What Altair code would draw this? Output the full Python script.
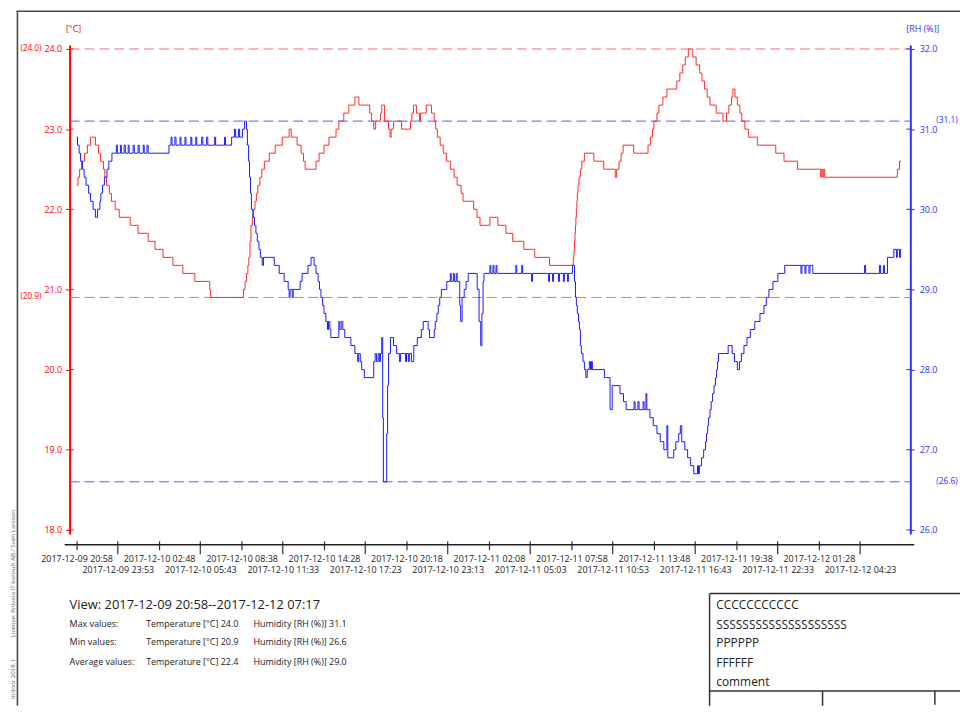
import altair as alt
import pandas as pd

FONT = "Open Sans"

# elapsed minutes since 2017-12-09 20:58 (change points of a stepped record)
temp_t = [0, 6, 13, 21, 34, 46, 59, 80, 93, 101, 114, 120, 127, 139, 148, 164, 181, 228, 261, 304, 333, 367, 409, 451, 502, 565, 569,
          708, 715, 721, 727, 731, 736, 740, 746, 751, 757, 763, 769, 778, 786, 797, 818, 843, 873, 902, 911, 936, 953, 963, 970,
          1016, 1029, 1050, 1071, 1101, 1113, 1134, 1155, 1181, 1198, 1244, 1252, 1261, 1269, 1290, 1295, 1307, 1324, 1330, 1335,
          1345, 1379, 1417, 1423, 1430, 1442, 1455, 1459, 1484, 1506, 1518, 1524, 1531, 1543, 1556, 1569, 1586, 1602, 1615, 1632,
          1640, 1685, 1699, 1712, 1754, 1788, 1822, 1851, 1898, 1944, 2007,
          2108, 2111, 2113, 2115, 2117, 2119, 2121, 2123, 2125, 2128, 2132, 2138, 2144, 2155, 2195, 2237, 2286, 2292, 2302, 2311,
          2319, 2364, 2425, 2435, 2444, 2450, 2463, 2471, 2488, 2505, 2547, 2560, 2572, 2583, 2596, 2615, 2629, 2644, 2654, 2665,
          2676, 2688, 2714, 2743, 2758, 2768, 2779, 2785, 2794, 2804, 2815, 2823, 2836, 2851, 2889, 2967, 3002, 3059, 3158, 3162,
          3167, 3171, 3175, 3483, 3492, 3500]
temp_v = [22.3, 22.4, 22.5, 22.6, 22.7, 22.8, 22.9, 22.8, 22.7, 22.6, 22.5, 22.4, 22.3, 22.2, 22.1, 22.0, 21.9, 21.8, 21.7, 21.6, 21.5, 21.4, 21.3, 21.2, 21.1, 21.0, 20.9,
          21.0, 21.1, 21.2, 21.3, 21.4, 21.6, 21.8, 21.9, 22.0, 22.1, 22.2, 22.3, 22.4, 22.5, 22.6, 22.7, 22.8, 22.9, 23.0, 22.9, 22.8, 22.7, 22.6, 22.5,
          22.6, 22.7, 22.8, 22.9, 23.0, 23.1, 23.2, 23.3, 23.4, 23.3, 23.2, 23.1, 23.0, 23.1, 23.2, 23.3, 23.1, 23.0, 22.9, 23.0,
          23.1, 23.0, 23.1, 23.2, 23.3, 23.2, 23.1, 23.2, 23.3, 23.2, 23.1, 23.0, 22.9, 22.8, 22.7, 22.6, 22.5, 22.4, 22.3, 22.2,
          22.1, 22.0, 21.9, 21.8, 21.9, 21.8, 21.7, 21.6, 21.5, 21.4, 21.3,
          21.4, 21.5, 21.6, 21.7, 21.8, 21.9, 22.0, 22.1, 22.2, 22.3, 22.4, 22.5, 22.6, 22.7, 22.6, 22.5, 22.4, 22.5, 22.6, 22.7,
          22.8, 22.7, 22.8, 22.9, 23.0, 23.1, 23.2, 23.3, 23.4, 23.5, 23.6, 23.7, 23.8, 23.9, 24.0, 23.9, 23.8, 23.7, 23.6, 23.5,
          23.4, 23.3, 23.2, 23.1, 23.2, 23.3, 23.4, 23.5, 23.4, 23.3, 23.2, 23.1, 23.0, 22.9, 22.8, 22.7, 22.6, 22.5, 22.4, 22.5,
          22.4, 22.5, 22.4, 22.5, 22.6, 22.6]

hum_t = [0, 4, 11, 17, 25, 32, 40, 51, 59, 70, 80, 89, 99, 103, 110, 118, 129, 137, 150,
         169, 173, 186, 190, 202, 207, 219, 223, 240, 245, 261, 266, 283, 287, 299, 304,
         392, 401, 405, 417, 422, 439, 443, 460, 464, 485, 489, 506, 510, 531, 536, 552, 557, 586, 590, 628, 632,
         658, 670, 675, 687, 692, 704, 713,
         721, 725, 730, 734, 738, 742, 748, 755, 761, 767, 774, 780, 788, 793,
         839, 860, 881, 898, 902, 906, 915, 919, 949, 957, 982, 995, 1008, 1016, 1025, 1031, 1037, 1044, 1050,
         1058, 1065, 1069, 1075, 1079, 1113, 1117, 1123, 1130, 1138, 1164, 1181, 1193, 1197, 1204, 1210, 1221, 1261, 1267, 1273,
         1280, 1286, 1290, 1295, 1299, 1302, 1316, 1320, 1324, 1332, 1345, 1358, 1370, 1375, 1396, 1400, 1408, 1412, 1421, 1431,
         1446, 1463, 1471, 1492, 1498, 1518, 1522, 1529, 1535, 1541, 1548, 1571, 1586, 1590, 1599, 1603, 1611, 1615, 1626, 1630,
         1636, 1645, 1653, 1662, 1700, 1708, 1715, 1720, 1725, 1729, 1754, 1758, 1767, 1771, 1780, 1784, 1864, 1868, 1889, 1893,
         1931, 1935, 2003, 2007, 2020, 2024, 2045, 2049, 2066, 2070, 2083, 2087, 2104,
         2113, 2117, 2121, 2125, 2130, 2134, 2138, 2142, 2149, 2155, 2161, 2167, 2176, 2181, 2185, 2189, 2240, 2264, 2273, 2306,
         2321, 2332, 2366, 2370, 2382, 2387, 2404, 2408, 2416, 2420, 2433, 2447, 2463, 2477, 2492, 2505, 2509, 2534, 2543, 2555,
         2562, 2568, 2581, 2593, 2606, 2619, 2635, 2639, 2643, 2652, 2661, 2669, 2673, 2678, 2682, 2688, 2693, 2699, 2705, 2711,
         2716, 2720, 2724, 2765, 2782, 2792, 2804, 2813, 2821, 2832, 2845, 2859, 2878, 2900, 2917, 2927, 2938, 2955, 2976, 3005,
         3074, 3078, 3091, 3095, 3108, 3112, 3124, 3344, 3348, 3407, 3412, 3424, 3428, 3441, 3468, 3479, 3483, 3492, 3496, 3500]
hum_v = [30.9, 30.8, 30.7, 30.6, 30.5, 30.4, 30.3, 30.2, 30.1, 30.0, 29.9, 30.0, 30.1, 30.2, 30.3, 30.4, 30.5, 30.6, 30.7,
         30.8, 30.7, 30.8, 30.7, 30.8, 30.7, 30.8, 30.7, 30.8, 30.7, 30.8, 30.7, 30.8, 30.7, 30.8, 30.7,
         30.8, 30.9, 30.8, 30.9, 30.8, 30.9, 30.8, 30.9, 30.8, 30.9, 30.8, 30.9, 30.8, 30.9, 30.8, 30.9, 30.8, 30.9, 30.8, 30.9, 30.8,
         30.9, 31.0, 30.9, 31.0, 30.9, 31.0, 31.1,
         31.0, 30.8, 30.6, 30.4, 30.2, 30.0, 29.9, 29.8, 29.7, 29.6, 29.5, 29.4, 29.3, 29.4,
         29.3, 29.2, 29.1, 29.0, 28.9, 29.0, 28.9, 29.0, 29.1, 29.2, 29.3, 29.4, 29.3, 29.2, 29.1, 29.0, 28.9, 28.8, 28.7,
         28.6, 28.5, 28.6, 28.5, 28.4, 28.6, 28.5, 28.6, 28.5, 28.4, 28.3, 28.2, 28.1, 28.2, 28.1, 28.0, 27.9, 28.1, 28.2, 28.1,
         28.2, 28.1, 28.2, 28.4, 27.4, 26.6, 27.2, 27.8, 28.2, 28.4, 28.3, 28.2, 28.1, 28.2, 28.1, 28.2, 28.1, 28.2, 28.1, 28.3,
         28.4, 28.5, 28.6, 28.5, 28.4, 28.5, 28.6, 28.7, 28.8, 28.9, 29.0, 29.1, 29.2, 29.1, 29.2, 29.1, 29.2, 29.1, 28.8, 28.6,
         28.9, 29.0, 29.1, 29.2, 29.0, 28.6, 28.3, 28.7, 29.1, 29.2, 29.3, 29.2, 29.3, 29.2, 29.3, 29.2, 29.3, 29.2, 29.3, 29.2,
         29.1, 29.2, 29.1, 29.2, 29.1, 29.2, 29.1, 29.2, 29.1, 29.2, 29.1, 29.2, 29.3,
         29.1, 28.9, 28.8, 28.7, 28.6, 28.5, 28.3, 28.2, 28.1, 28.0, 27.9, 28.0, 28.1, 28.0, 28.1, 28.0, 27.9, 27.5, 27.8, 27.7,
         27.6, 27.5, 27.6, 27.5, 27.6, 27.5, 27.6, 27.5, 27.7, 27.5, 27.4, 27.3, 27.2, 27.1, 27.0, 27.3, 26.9, 27.0, 27.1, 27.2,
         27.3, 27.1, 27.0, 26.9, 26.8, 26.7, 26.8, 26.7, 26.8, 26.9, 27.0, 27.1, 27.2, 27.3, 27.4, 27.5, 27.6, 27.7, 27.8, 27.9,
         28.0, 28.1, 28.2, 28.3, 28.2, 28.1, 28.0, 28.1, 28.2, 28.3, 28.4, 28.5, 28.6, 28.7, 28.8, 28.9, 29.0, 29.1, 29.2, 29.3,
         29.2, 29.3, 29.2, 29.3, 29.2, 29.3, 29.2, 29.3, 29.2, 29.3, 29.2, 29.3, 29.2, 29.4, 29.5, 29.4, 29.5, 29.4, 29.5, 29.5]

START = "2017-12-09 20:58"
tick_minutes = [0, 175, 350, 525, 700, 875, 1050, 1225, 1400, 1575, 1750, 1925,
                2100, 2275, 2450, 2625, 2800, 2975, 3150, 3325]
temp_ticks = [18.0, 19.0, 20.0, 21.0, 22.0, 23.0, 24.0]
hum_ticks = [26.0, 27.0, 28.0, 29.0, 30.0, 31.0, 32.0]

temp_limits = [24.0, 20.9]   # max, min
hum_limits = [31.1, 26.6]    # max, min

stat_names = ["Max values:", "Min values:", "Average values:"]
stat_temp = [24.0, 20.9, 22.4]
stat_hum = [31.1, 26.6, 29.0]

view_text = "View: 2017-12-09 20:58--2017-12-12 07:17"
box_lines = ["CCCCCCCCCCC", "SSSSSSSSSSSSSSSSSSSS", "PPPPPP", "FFFFFF", "comment"]
license_1 = "Indoor 2018.1"
license_2 = "License: Knivsta IT konsult AB / Sven Larsson"

# ---------------------------------------------------------------
W, H = 846, 492
RED, RED_LINE, RED_DASH = "#ff0000", "#ff2a2a", "#ff6a6a"
BLUE, BLUE_LINE, BLUE_DASH = "#3030ff", "#1a1aff", "#5a5aff"
DARK = "#333333"

t0 = pd.Timestamp(START)
def stamp(mins):
    return [(t0 + pd.Timedelta(minutes=m)).strftime("%Y-%m-%dT%H:%M:%S") for m in mins]

def dt(m):
    ts = t0 + pd.Timedelta(minutes=m)
    return alt.DateTime(year=ts.year, month=ts.month, date=ts.day,
                        hours=ts.hour, minutes=ts.minute, seconds=ts.second)

temp_df = pd.DataFrame({"t": stamp(temp_t), "v": temp_v})
hum_df = pd.DataFrame({"t": stamp(hum_t), "v": hum_v})

x_scale = alt.Scale(domain=[dt(-29.5), dt(3538)], nice=False)
t_scale = alt.Scale(domain=[17.95, 24.05], nice=False, zero=False)
h_scale = alt.Scale(domain=[25.95, 32.05], nice=False, zero=False)

def x_axis(values, tick_size, pad):
    return alt.Axis(values=[dt(m) for m in values], format="%Y-%m-%d %H:%M", orient="bottom", offset=7,
                    domain=False, grid=False, title=None, tickSize=tick_size,
                    tickColor=DARK, tickWidth=1.2, labelColor="#222222", labelFontSize=9,
                    labelFont=FONT, labelPadding=pad, labelFlush=False, labelOverlap=False)

even_axis = x_axis(tick_minutes[0::2], 9, 5)
odd_axis = x_axis(tick_minutes[1::2], 13, 12)

temp_axis = alt.Axis(values=temp_ticks, format=".1f", orient="left", domainColor=RED, domainWidth=2,
                     tickColor=RED, tickSize=4, labelColor=RED, labelFontSize=9, labelFont=FONT,
                     labelPadding=4, grid=False, title=None, labelFlush=False, labelOverlap=False)
hum_axis = alt.Axis(values=hum_ticks, format=".1f", orient="right", domainColor=BLUE, domainWidth=2,
                    tickColor=BLUE, tickSize=4, labelColor=BLUE, labelFontSize=9, labelFont=FONT,
                    labelPadding=5, grid=False, title=None, labelFlush=False, labelOverlap=False)

temp_line = alt.Chart(temp_df).mark_line(color=RED_LINE, strokeWidth=1, interpolate="step-after").encode(
    x=alt.X("t:T", scale=x_scale, axis=even_axis),
    y=alt.Y("v:Q", scale=t_scale, axis=temp_axis),
)
hum_line = alt.Chart(hum_df).mark_line(color=BLUE_LINE, strokeWidth=1, interpolate="step-after").encode(
    x=alt.X("t:T", scale=x_scale, axis=odd_axis),
    y=alt.Y("v:Q", scale=h_scale, axis=hum_axis),
)

t_lim_df = pd.DataFrame({"v": temp_limits, "label": ["(%.1f)" % v for v in temp_limits]})
h_lim_df = pd.DataFrame({"v": hum_limits, "label": ["(%.1f)" % v for v in hum_limits]})

t_dash = alt.Chart(t_lim_df).mark_rule(color=RED_DASH, strokeWidth=1, strokeDash=[10, 5]).encode(
    y=alt.Y("v:Q", scale=t_scale, axis=None), x=alt.value(0), x2=alt.value(W))
h_dash = alt.Chart(h_lim_df).mark_rule(color=BLUE_DASH, strokeWidth=1, strokeDash=[10, 5]).encode(
    y=alt.Y("v:Q", scale=h_scale, axis=None), x=alt.value(0), x2=alt.value(W))

t_lab = alt.Chart(t_lim_df).mark_text(color=RED, fontSize=8.2, font=FONT, align="right", baseline="middle").encode(
    y=alt.Y("v:Q", scale=t_scale, axis=None), x=alt.value(-28.5), text="label:N")
h_lab = alt.Chart(h_lim_df).mark_text(color=BLUE, fontSize=8.5, font=FONT, align="left", baseline="middle", dy=-1).encode(
    y=alt.Y("v:Q", scale=h_scale, axis=None), x=alt.value(872), text="label:N")

t_in = alt.Chart(pd.DataFrame({"v": temp_ticks})).mark_rule(color=RED, strokeWidth=1).encode(
    y=alt.Y("v:Q", scale=t_scale, axis=None), x=alt.value(0), x2=alt.value(4))
h_in = alt.Chart(pd.DataFrame({"v": hum_ticks})).mark_rule(color=BLUE, strokeWidth=1).encode(
    y=alt.Y("v:Q", scale=h_scale, axis=None), x=alt.value(W - 4), x2=alt.value(W))

one = pd.DataFrame({"a": [0]})

def txt(s, x, y, size=9, color="#222222", align="left", angle=0):
    kw = dict(text=s, fontSize=size, font=FONT, color=color, align=align, baseline="middle")
    if angle:
        kw["angle"] = angle
    return alt.Chart(one).mark_text(**kw).encode(x=alt.value(x), y=alt.value(y))

def rule(x, y, x2=None, y2=None, color=DARK, width=1.5):
    enc = dict(x=alt.value(x), y=alt.value(y))
    if x2 is not None:
        enc["x2"] = alt.value(x2)
    if y2 is not None:
        enc["y2"] = alt.value(y2)
    return alt.Chart(one).mark_rule(color=color, strokeWidth=width).encode(**enc)

deco = [
    txt("[°C]", 4, -16, color=RED, align="center"),
    txt("[RH (%)]", 858.5, -16, color=BLUE, align="center"),
    rule(-5, 503, x2=850, color="#222222", width=1.5),
    # outer frame
    rule(-52.5, -34, y2=665, color="#4a4a4a", width=1.6),
    rule(-53.5, -34, x2=900, color="#4a4a4a", width=1.6),
    txt(license_2, -57, 532, size=6.2, color="#666666", align="center", angle=270),
    txt(license_1, -57, 638, size=6.2, color="#666666", align="center", angle=270),
    txt(view_text, 0, 564, size=13, color="#222222"),
    # right info box
    rule(644, 552, x2=900, color=DARK, width=1.5),
    rule(644, 552, y2=665, color=DARK, width=1.5),
    rule(644, 650, x2=900, color=DARK, width=1.5),
    rule(757.7, 650, y2=665, color=DARK, width=1.5),
    rule(870.7, 650, y2=664, color=DARK, width=1.5),
]
row_y = [582.3, 601.3, 620.7]
for i, name in enumerate(stat_names):
    deco.append(txt(name, 0, row_y[i]))
    deco.append(txt("Temperature [°C] %.1f" % stat_temp[i], 77, row_y[i]))
    deco.append(txt("Humidity [RH (%%)] %.1f" % stat_hum[i], 185, row_y[i]))
box_y = [564, 583.3, 602.3, 621.7, 640.7]
for i, s in enumerate(box_lines):
    deco.append(txt(s, 650.7, box_y[i], size=12, color="#222222"))

chart = alt.layer(
    t_dash, h_dash, t_in, h_in, t_lab, h_lab, temp_line, hum_line, *deco
).resolve_scale(
    y="independent"
).resolve_axis(
    x="independent", y="independent"
).properties(
    width=W, height=H,
    autosize=alt.AutoSizeParams(type="none"),
    padding={"left": 62, "top": 35, "right": 50, "bottom": 173},
).configure_view(stroke=None)

chart.save("out.html", embed_options={"renderer": "svg", "actions": False})
